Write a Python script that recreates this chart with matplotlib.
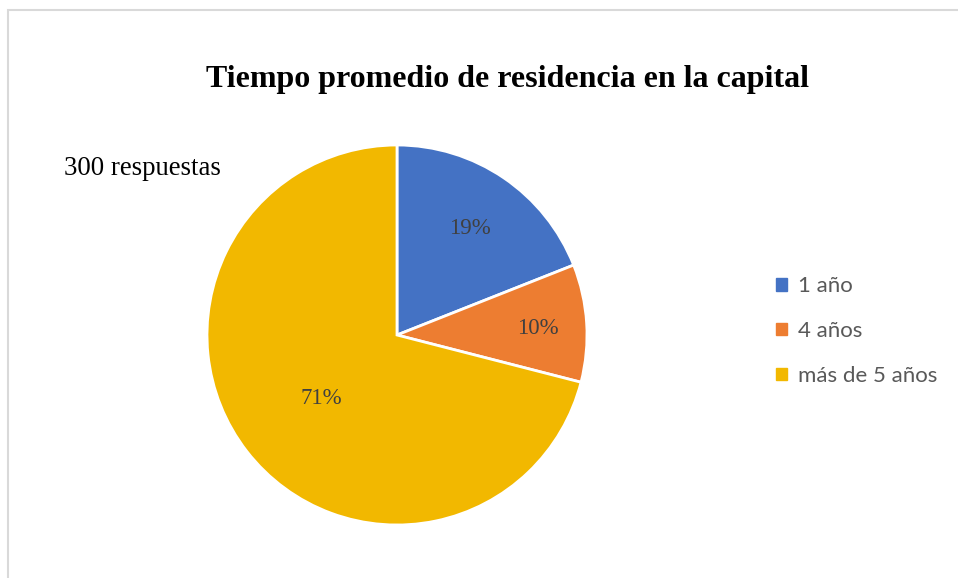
import matplotlib
matplotlib.use("Agg")
import matplotlib.pyplot as plt
from matplotlib.patches import Rectangle, Patch
import numpy as np

categories = ["1 año", "4 años", "más de 5 años"]
values = [19, 10, 71]
colors = ["#4472C4", "#ED7D31", "#F2B800"]
title = "Tiempo promedio de residencia en la capital"
note = "300 respuestas"
label_dist = [0.68, 0.74, 0.52]
label_ang_shift = [0.0, -0.8, 2.0]

W, H = 958, 578
fig = plt.figure(figsize=(W / 100, H / 100), dpi=100)
fig.patch.set_facecolor("white")

# frame
fig.add_artist(Rectangle((8 / W, -0.1), 1.2, (H - 10) / H + 0.1, transform=fig.transFigure,
                         fill=False, edgecolor="#d9d9d9", linewidth=1.5))

cx, cy, r = 397, 335, 190
ax = fig.add_axes([(cx - r) / W, (H - cy - r) / H, 2 * r / W, 2 * r / H])
wedges, texts, autotexts = ax.pie(values, colors=colors, startangle=90, counterclock=False,
                                  radius=1, autopct="%1.0f%%",
                                  wedgeprops=dict(edgecolor="white", linewidth=2),
                                  textprops=dict(family="Liberation Serif", fontsize=16.5, color="#404040"))
for w, t, d, s in zip(wedges, autotexts, label_dist, label_ang_shift):
    ang = np.deg2rad((w.theta1 + w.theta2) / 2 + s)
    t.set_position((d * np.cos(ang), d * np.sin(ang)))
ax.set_xlim(-1, 1)
ax.set_ylim(-1, 1)
ax.set_aspect("equal")
ax.axis("off")

fig.text(507 / W, 1 - 80 / H, title, ha="center", va="center",
         family="Liberation Serif", fontweight="bold", fontsize=23, color="black")
fig.text(64 / W, 1 - 169 / H, note, ha="left", va="center",
         family="Liberation Serif", fontsize=19.3, color="black")

handles = [Patch(facecolor=c, edgecolor=c) for c in colors]
leg = fig.legend(handles, categories, loc="center left", bbox_to_anchor=(756 / W, 1 - 331 / H),
                 frameon=False, handlelength=0.5, handleheight=0.5, handletextpad=0.5,
                 labelspacing=1.12, prop=dict(family="Lato", size=16))
for t in leg.get_texts():
    t.set_color("#595959")

fig.savefig("out.png", dpi=100, facecolor="white")
